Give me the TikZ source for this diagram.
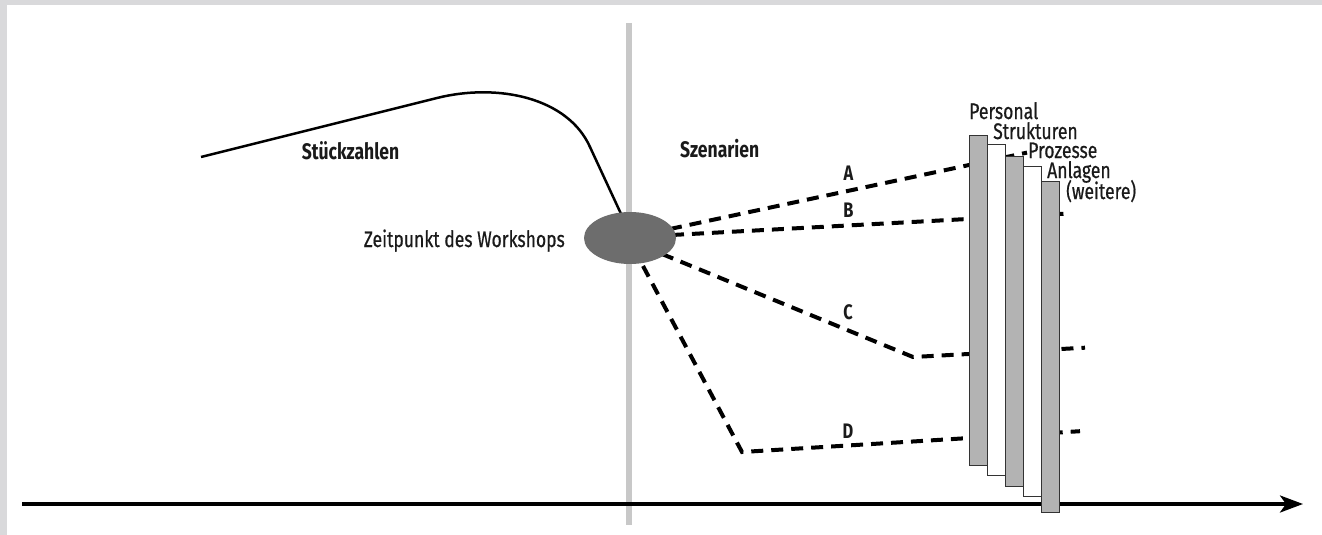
\documentclass[tikz,border=0pt]{standalone}
\usepackage{fontspec}
\setmainfont{Fira Sans}[FakeStretch=0.78]
\newfontfamily\regfont{Fira Sans}[FakeStretch=0.78, FakeBold=0.6]
\usetikzlibrary{arrows.meta,shapes.geometric}
\definecolor{bordergray}{HTML}{D9D9DB}
\definecolor{vgray}{HTML}{C8C8C8}
\definecolor{ellgray}{HTML}{6D6D6D}
\definecolor{bargray}{HTML}{B3B3B3}
\definecolor{ink}{HTML}{1A1A1A}
\tikzset{
  scen/.style={line width=4pt, dash pattern=on 12pt off 8pt},
  barbox/.style={draw=black!80, line width=1pt, minimum width=18pt, inner sep=0pt, anchor=north west},
  graybar/.style={barbox, fill=bargray},
  whitebar/.style={barbox, fill=white},
  lbl/.style={inner sep=0pt, text=ink, font=\regfont\fontsize{22.5}{26}\selectfont},
  blbl/.style={inner sep=0pt, text=ink, font=\fontsize{22.5}{26}\selectfont\bfseries},
  letter/.style={inner sep=0pt, text=ink, font=\fontsize{21}{24}\selectfont\bfseries},
}
\begin{document}
\begin{tikzpicture}[x=1pt,y=-1pt]
\useasboundingbox (0,0) rectangle (1322,535);
\fill[bordergray] (0,0) rectangle (1322,535);
\fill[white] (7,5) rectangle (1322,535);

% vertical time marker
\coordinate (vt) at (629,23);
\coordinate (vb) at (629,525);
\draw[vgray, line width=6pt] (vt) -- (vb);

% time axis
\coordinate (axl) at (22,504);
\coordinate (axr) at (1303,504);
\draw[line width=3.5pt, -{Stealth[length=23pt,width=17pt,inset=6pt]}] (axl) -- (axr);

% Stueckzahlen curve
\coordinate (c0) at (201,157);
\coordinate (c1) at (437,98);
\coordinate (c2) at (590,147);
\coordinate (c3) at (622,216);
\draw[line width=2.5pt] (c0) -- (c1) .. controls (497,83) and (567.5,97) .. (c2) -- (c3);

% scenario lines
\coordinate (sA) at (670,229);
\coordinate (sB) at (672,235);
\coordinate (sC) at (662,254);
\coordinate (sD) at (643,266);
\coordinate (eA) at (1027,152.6);
\coordinate (eB) at (1069,213.5);
\coordinate (kC) at (913,357);
\coordinate (eC) at (1085,347.7);
\coordinate (kD) at (742,452);
\coordinate (eD) at (1080,431.2);
\draw[scen] (sA) -- (eA);
\draw[scen] (sB) -- (eB);
\draw[scen] (sC) -- (kC) -- (eC);
\draw[scen] (sD) -- (kD) -- (eD);

% workshop ellipse
\node[ellipse, fill=ellgray, minimum width=92pt, minimum height=52pt, inner sep=0pt] (ws) at (630,238) {};

% bars
\node[graybar, minimum height=330pt] (b1) at (969,135) {};
\node[whitebar, minimum height=331pt] (b2) at (987,144) {};
\node[graybar, minimum height=330pt] (b3) at (1005,156) {};
\node[whitebar, minimum height=330pt] (b4) at (1023,166) {};
\node[graybar, minimum height=331pt] (b5) at (1041,181) {};

% labels
\node[blbl, anchor=base] (stz) at (350.5,159) {Stückzahlen};
\node[blbl, anchor=base west] (szn) at (680,157) {Szenarien};
\node[lbl, anchor=base east] (zdw) at (565,247) {Zeitpunkt des Workshops};
\node[lbl, anchor=base west] (lp) at (969,119) {Personal};
\node[lbl, anchor=base west] (ls) at (993,139) {Strukturen};
\node[lbl, anchor=base west] (lpz) at (1028,158) {Prozesse};
\node[lbl, anchor=base west] (la) at (1047,178) {Anlagen};
\node[lbl, anchor=base west] (lw) at (1066,199) {(weitere)};
\node[letter] (tA) at (848.5,173.5) {A};
\node[letter] (tB) at (848.5,210.5) {B};
\node[letter] (tC) at (848,312) {C};
\node[letter] (tD) at (848,431) {D};
\end{tikzpicture}
\end{document}
